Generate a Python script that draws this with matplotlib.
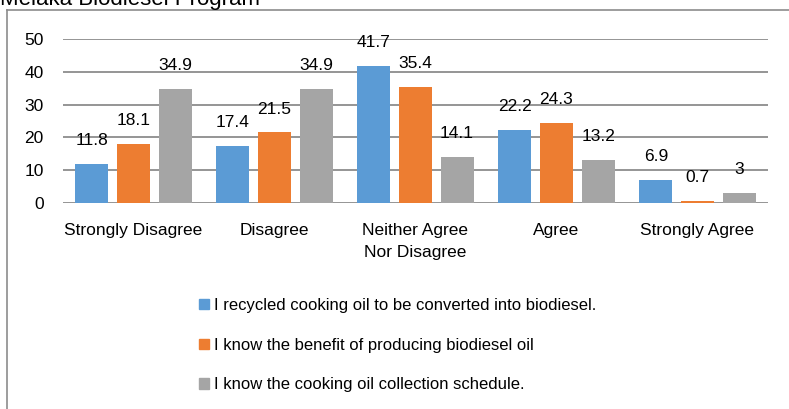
import numpy as np
import matplotlib.pyplot as plt
from matplotlib.lines import Line2D
from matplotlib.patches import Rectangle

plt.rcParams['font.family'] = ['Liberation Sans', 'DejaVu Sans']

# Данные
categories = ['Strongly Disagree', 'Disagree', 'Neither Agree\nNor Disagree', 'Agree', 'Strongly Agree']
series_names = ['I recycled cooking oil to be converted into biodiesel.',
                'I know the benefit of producing biodiesel oil',
                'I know the cooking oil collection schedule.']
recycled = [11.8, 17.4, 41.7, 22.2, 6.9]
benefit = [18.1, 21.5, 35.4, 24.3, 0.7]
schedule = [34.9, 34.9, 14.1, 13.2, 3]
colors = ['#5B9BD5', '#ED7D31', '#A5A5A5']

W, H = 789, 409
fig = plt.figure(figsize=(W / 100, H / 100), dpi=100)
ax = fig.add_axes([63 / W, 1 - 203 / H, (768 - 63) / W, (203 - 39) / H])

x = np.arange(len(categories))
width = 0.234
step = 0.295
for i, (vals, name) in enumerate(zip([recycled, benefit, schedule], series_names)):
    pos = x + (i - 1) * step
    bars = ax.bar(pos, vals, width, color=colors[i], label=name, zorder=3)
    for b, v in zip(bars, vals):
        ax.annotate(f'{v:g}', (b.get_x() + b.get_width() / 2, v), xytext=(0, 11.5),
                    textcoords='offset points', ha='center', va='bottom',
                    fontsize=12.5, annotation_clip=False)

ax.set_xlim(-0.5, len(categories) - 0.5)
ax.set_ylim(0, 50)
ax.set_yticks(range(0, 51, 10))
ax.set_xticks(x)
ax.set_xticklabels(categories, fontsize=12.5, linespacing=1.6)
ax.tick_params(axis='y', labelsize=12.5, length=0, pad=14)
ax.tick_params(axis='x', length=0, pad=14.5)
ax.yaxis.grid(True, color='#8c8c8c', linewidth=1.3, zorder=0)
for s in ax.spines.values():
    s.set_visible(False)

# Рамка (обрезанная справа и снизу)
fig.add_artist(Line2D([7 / W, 7 / W], [0, 1 - 10 / H], color='#8c8c8c', linewidth=1.2))
fig.add_artist(Line2D([7 / W, 1], [1 - 10 / H, 1 - 10 / H], color='#8c8c8c', linewidth=1.2))

fig.text(0, 1 - 5 / H, 'Melaka Biodiesel Program', fontsize=16, va='baseline', ha='left')

handles = [Rectangle((0, 0), 1, 1, color=c) for c in colors]
fig.legend(handles, series_names, loc='upper left', bbox_to_anchor=(184 / W, 1 - 283 / H),
           frameon=False, fontsize=12, handlelength=0.6, handleheight=0.6,
           handletextpad=0.3, labelspacing=1.48)

fig.savefig('out.png', dpi=100)
